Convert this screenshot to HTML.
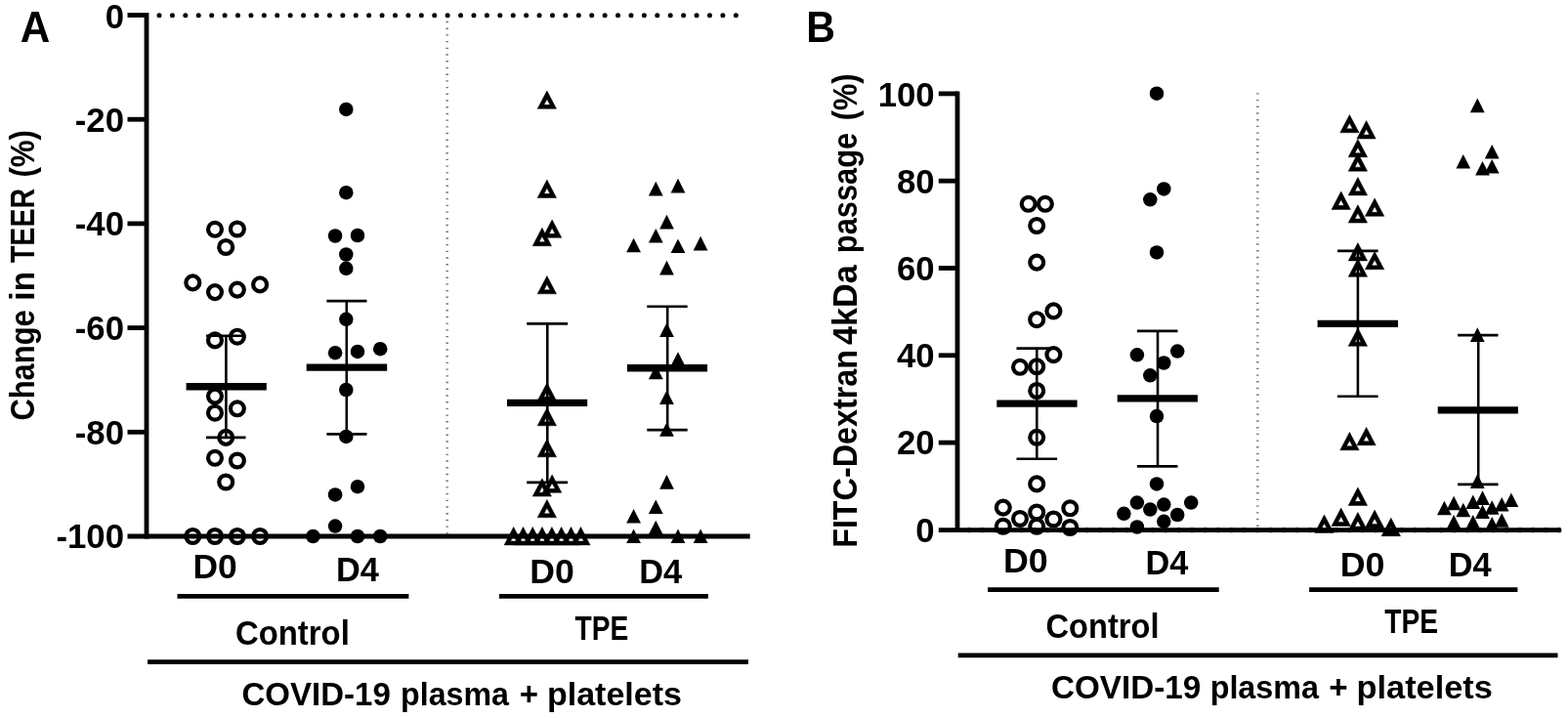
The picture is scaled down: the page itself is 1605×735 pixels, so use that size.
<!DOCTYPE html><html lang="en"><head><meta charset="utf-8"><title>Figure</title>
<style>html,body{margin:0;padding:0;background:#fff}body{width:1605px;height:735px;overflow:hidden}svg{display:block}text{fill:#000}</style></head><body>
<svg width="1605" height="735" viewBox="0 0 1605 735" font-family="&quot;Liberation Sans&quot;, Arial, Helvetica, sans-serif" font-weight="700">
<rect width="1605" height="735" fill="#fff"/>
<g id="panelA">
<line x1="163" y1="15.7" x2="753.7" y2="15.7" stroke="#000" stroke-width="5.0" stroke-linecap="round" stroke-dasharray="0 13.416"/>
<line x1="457.7" y1="21.8" x2="457.7" y2="547" stroke="#7a7a7a" stroke-width="2.6" stroke-dasharray="1.4 5.31"/>
<g stroke="#000">
<line x1="150.00" y1="13.10" x2="150.00" y2="551.40" stroke-width="4.8" />
<line x1="130.50" y1="549.00" x2="767.70" y2="549.00" stroke-width="4.8" />
<line x1="130.50" y1="15.50" x2="150.00" y2="15.50" stroke-width="4.8" />
<line x1="130.50" y1="122.20" x2="150.00" y2="122.20" stroke-width="4.8" />
<line x1="130.50" y1="228.90" x2="150.00" y2="228.90" stroke-width="4.8" />
<line x1="130.50" y1="335.60" x2="150.00" y2="335.60" stroke-width="4.8" />
<line x1="130.50" y1="442.30" x2="150.00" y2="442.30" stroke-width="4.8" />
</g>
<text transform="translate(107.65 28.60) scale(0.9650 1)" font-size="36">0</text>
<text transform="translate(76.77 134.50) scale(0.9650 1)" font-size="36">-20</text>
<text transform="translate(76.77 241.20) scale(0.9650 1)" font-size="36">-40</text>
<text transform="translate(76.77 347.90) scale(0.9650 1)" font-size="36">-60</text>
<text transform="translate(76.77 454.60) scale(0.9650 1)" font-size="36">-80</text>
<text transform="translate(57.47 561.30) scale(0.9650 1)" font-size="36">-100</text>
<g fill="none" stroke="#000" stroke-width="4.2">
<circle cx="220.0" cy="234.8" r="6.95"/>
<circle cx="242.9" cy="234.5" r="6.95"/>
<circle cx="231.2" cy="253.0" r="6.95"/>
<circle cx="197.3" cy="289.4" r="6.95"/>
<circle cx="220.0" cy="299.1" r="6.95"/>
<circle cx="242.9" cy="296.6" r="6.95"/>
<circle cx="266.1" cy="291.4" r="6.95"/>
<circle cx="220.0" cy="348.4" r="6.95"/>
<circle cx="242.9" cy="344.7" r="6.95"/>
<circle cx="220.0" cy="405.6" r="6.95"/>
<circle cx="242.9" cy="418.3" r="6.95"/>
<circle cx="220.0" cy="422.7" r="6.95"/>
<circle cx="231.2" cy="447.9" r="6.95"/>
<circle cx="220.0" cy="468.8" r="6.95"/>
<circle cx="242.9" cy="471.5" r="6.95"/>
<circle cx="231.2" cy="493.5" r="6.95"/>
<circle cx="197.3" cy="549.0" r="6.95"/>
<circle cx="220.0" cy="549.0" r="6.95"/>
<circle cx="242.9" cy="549.0" r="6.95"/>
<circle cx="266.1" cy="549.0" r="6.95"/>
</g>
<g stroke="#000" fill="none">
<line x1="231.40" y1="343.70" x2="231.40" y2="447.90" stroke-width="2.6" />
<line x1="211.00" y1="343.70" x2="251.50" y2="343.70" stroke-width="2.6" />
<line x1="211.00" y1="447.90" x2="251.50" y2="447.90" stroke-width="2.6" />
<line x1="190.60" y1="395.80" x2="272.80" y2="395.80" stroke-width="7.4" />
</g>
<g fill="#000">
<circle cx="354.3" cy="111.9" r="7.25"/>
<circle cx="354.3" cy="197.2" r="7.25"/>
<circle cx="343.1" cy="241.5" r="7.25"/>
<circle cx="366.0" cy="241.0" r="7.25"/>
<circle cx="354.3" cy="260.5" r="7.25"/>
<circle cx="354.3" cy="274.8" r="7.25"/>
<circle cx="354.3" cy="326.8" r="7.25"/>
<circle cx="343.1" cy="361.2" r="7.25"/>
<circle cx="366.0" cy="359.9" r="7.25"/>
<circle cx="389.2" cy="357.2" r="7.25"/>
<circle cx="354.3" cy="399.0" r="7.25"/>
<circle cx="354.3" cy="446.9" r="7.25"/>
<circle cx="366.0" cy="498.2" r="7.25"/>
<circle cx="343.1" cy="506.4" r="7.25"/>
<circle cx="343.1" cy="538.6" r="7.25"/>
<circle cx="320.4" cy="549.0" r="7.25"/>
<circle cx="366.0" cy="549.0" r="7.25"/>
<circle cx="389.2" cy="549.0" r="7.25"/>
</g>
<g stroke="#000" fill="none">
<line x1="354.80" y1="308.10" x2="354.80" y2="444.40" stroke-width="2.6" />
<line x1="334.40" y1="308.10" x2="375.50" y2="308.10" stroke-width="2.6" />
<line x1="334.40" y1="444.40" x2="375.50" y2="444.40" stroke-width="2.6" />
<line x1="313.70" y1="376.10" x2="396.20" y2="376.10" stroke-width="7.4" />
</g>
<g fill="#000" fill-rule="evenodd" stroke="#000" stroke-width="0.5" stroke-linejoin="round">
<path d="M559.9 93.0L569.5 111.3L550.2 111.3ZM559.9 101.56L556.86 107.35L562.94 107.35Z"/>
<path d="M559.9 184.0L569.5 202.4L550.2 202.4ZM559.9 192.56L556.86 198.35L562.94 198.35Z"/>
<path d="M565.1 224.9L574.8 243.3L555.5 243.3ZM565.1 233.46L562.06 239.25L568.14 239.25Z"/>
<path d="M554.9 233.2L564.5 251.7L545.2 251.7ZM554.9 241.86L551.86 247.65L557.94 247.65Z"/>
<path d="M559.9 282.4L569.5 300.8L550.2 300.8ZM559.9 290.96L556.86 296.75L562.94 296.75Z"/>
<path d="M559.9 391.9L569.5 410.2L550.2 410.2ZM559.9 400.46L556.86 406.25L562.94 406.25Z"/>
<path d="M559.9 417.4L569.5 435.8L550.2 435.8ZM559.9 426.06L556.86 431.85L562.94 431.85Z"/>
<path d="M559.9 449.4L569.5 467.8L550.2 467.8ZM559.9 457.96L556.86 463.75L562.94 463.75Z"/>
<path d="M565.1 485.9L574.8 504.3L555.5 504.3ZM565.1 494.56L562.06 500.35L568.14 500.35Z"/>
<path d="M554.9 489.8L564.5 508.1L545.2 508.1ZM554.9 498.36L551.86 504.15L557.94 504.15Z"/>
<path d="M559.9 511.4L569.5 529.8L550.2 529.8ZM559.9 519.96L556.86 525.75L562.94 525.75Z"/>
<path d="M525.7 539.5L535.4 557.9L516.1 557.9ZM525.7 548.16L522.66 553.95L528.74 553.95Z"/>
<path d="M535.5 539.5L545.1 557.9L525.9 557.9ZM535.5 548.16L532.46 553.95L538.54 553.95Z"/>
<path d="M545.2 539.5L554.9 557.9L535.6 557.9ZM545.2 548.16L542.16 553.95L548.24 553.95Z"/>
<path d="M554.9 539.5L564.5 557.9L545.2 557.9ZM554.9 548.16L551.86 553.95L557.94 553.95Z"/>
<path d="M564.9 539.5L574.5 557.9L555.2 557.9ZM564.9 548.16L561.86 553.95L567.94 553.95Z"/>
<path d="M574.6 539.5L584.2 557.9L565.0 557.9ZM574.6 548.16L571.56 553.95L577.64 553.95Z"/>
<path d="M584.5 539.5L594.1 557.9L574.9 557.9ZM584.5 548.16L581.46 553.95L587.54 553.95Z"/>
<path d="M594.5 539.5L604.1 557.9L584.9 557.9ZM594.5 548.16L591.46 553.95L597.54 553.95Z"/>
</g>
<g stroke="#000" fill="none">
<line x1="560.30" y1="331.40" x2="560.30" y2="493.90" stroke-width="2.6" />
<line x1="539.20" y1="331.40" x2="581.10" y2="331.40" stroke-width="2.6" />
<line x1="539.20" y1="493.90" x2="581.10" y2="493.90" stroke-width="2.6" />
<line x1="519.00" y1="412.40" x2="601.20" y2="412.40" stroke-width="7.4" />
</g>
<g fill="#000">
<path d="M671.3 185.8L678.7 200.4L663.9 200.4Z"/>
<path d="M694.0 182.8L701.4 197.4L686.6 197.4Z"/>
<path d="M682.5 219.8L689.9 234.4L675.1 234.4Z"/>
<path d="M671.3 233.9L678.7 248.5L663.9 248.5Z"/>
<path d="M648.6 243.7L656.0 258.3L641.2 258.3Z"/>
<path d="M694.0 244.4L701.4 259.0L686.6 259.0Z"/>
<path d="M717.1 241.8L724.5 256.4L709.7 256.4Z"/>
<path d="M682.5 266.8L689.9 281.4L675.1 281.4Z"/>
<path d="M682.5 330.3L689.9 344.9L675.1 344.9Z"/>
<path d="M694.0 360.2L701.4 374.8L686.6 374.8Z"/>
<path d="M671.3 373.7L678.7 388.3L663.9 388.3Z"/>
<path d="M682.5 399.4L689.9 414.0L675.1 414.0Z"/>
<path d="M682.5 432.2L689.9 446.8L675.1 446.8Z"/>
<path d="M682.5 486.1L689.9 500.7L675.1 500.7Z"/>
<path d="M671.3 511.5L678.7 526.1L663.9 526.1Z"/>
<path d="M648.6 521.0L656.0 535.6L641.2 535.6Z"/>
<path d="M671.3 532.7L678.7 547.3L663.9 547.3Z"/>
<path d="M648.6 541.4L656.0 556.0L641.2 556.0Z"/>
<path d="M694.0 541.4L701.4 556.0L686.6 556.0Z"/>
<path d="M717.1 541.4L724.5 556.0L709.7 556.0Z"/>
</g>
<g stroke="#000" fill="none">
<line x1="683.20" y1="313.70" x2="683.20" y2="440.10" stroke-width="2.6" />
<line x1="662.30" y1="313.70" x2="703.70" y2="313.70" stroke-width="2.6" />
<line x1="662.30" y1="440.10" x2="703.70" y2="440.10" stroke-width="2.6" />
<line x1="641.90" y1="376.80" x2="724.10" y2="376.80" stroke-width="7.4" />
</g>
<text transform="translate(20.71 42.90) scale(0.9559 1)" font-size="44.2">A</text>
<text transform="translate(35.30 430.56) rotate(-90) scale(0.9035 1)" font-size="34.2">Change</text>
<text transform="translate(35.30 307.65) rotate(-90) scale(0.9786 1)" font-size="34.2">in</text>
<text transform="translate(35.30 269.12) rotate(-90) scale(0.8356 1)" font-size="34.2">TEER</text>
<text transform="translate(35.30 181.60) rotate(-90) scale(0.9146 1)" font-size="34.2">(%)</text>
<text transform="translate(197.39 592.40) scale(1.0247 1)" font-size="34.6">D0</text>
<text transform="translate(343.96 594.70) scale(0.9940 1)" font-size="34.6">D4</text>
<text transform="translate(542.18 596.80) scale(1.0296 1)" font-size="34.6">D0</text>
<text transform="translate(654.16 596.80) scale(0.9940 1)" font-size="34.6">D4</text>
<g stroke="#000">
<line x1="181.50" y1="610.35" x2="418.40" y2="610.35" stroke-width="4.8" />
<line x1="511.00" y1="610.35" x2="724.90" y2="610.35" stroke-width="4.8" />
<line x1="151.10" y1="677.70" x2="766.00" y2="677.70" stroke-width="4.8" />
</g>
<text transform="translate(240.90 659.70) scale(0.9325 1)" font-size="35.3">Control</text>
<text transform="translate(588.59 655.20) scale(0.8200 1)" font-size="34.4">TPE</text>
<text transform="translate(247.54 722.10) scale(0.9708 1)" font-size="34">COVID-19</text>
<text transform="translate(410.07 722.10) scale(0.9470 1)" font-size="34">plasma</text>
<text transform="translate(531.64 722.10) scale(0.9706 1)" font-size="34">+</text>
<text transform="translate(559.95 722.10) scale(1.0011 1)" font-size="34">platelets</text>
</g>
<g id="panelB">
<line x1="1287.3" y1="95.2" x2="1287.3" y2="540.5" stroke="#7a7a7a" stroke-width="2.6" stroke-dasharray="1.4 5.302"/>
<line x1="992.1" y1="542.7" x2="1596" y2="542.7" stroke="#000" stroke-width="5.2" stroke-linecap="round" stroke-dasharray="0 13.416"/>
<g stroke="#000">
<line x1="980.00" y1="93.50" x2="980.00" y2="544.90" stroke-width="4.8" />
<line x1="960.80" y1="542.60" x2="1597.50" y2="542.60" stroke-width="4.6" />
<line x1="960.80" y1="95.90" x2="980.00" y2="95.90" stroke-width="4.8" />
<line x1="960.80" y1="185.20" x2="980.00" y2="185.20" stroke-width="4.8" />
<line x1="960.80" y1="274.50" x2="980.00" y2="274.50" stroke-width="4.8" />
<line x1="960.80" y1="363.80" x2="980.00" y2="363.80" stroke-width="4.8" />
<line x1="960.80" y1="453.10" x2="980.00" y2="453.10" stroke-width="4.8" />
</g>
<text transform="translate(898.65 109.00) scale(0.9650 1)" font-size="36">100</text>
<text transform="translate(917.95 197.50) scale(0.9650 1)" font-size="36">80</text>
<text transform="translate(917.95 286.80) scale(0.9650 1)" font-size="36">60</text>
<text transform="translate(917.95 376.10) scale(0.9650 1)" font-size="36">40</text>
<text transform="translate(917.95 465.40) scale(0.9650 1)" font-size="36">20</text>
<text transform="translate(937.25 554.70) scale(0.9650 1)" font-size="36">0</text>
<g fill="none" stroke="#000" stroke-width="4.2">
<circle cx="1052.7" cy="208.8" r="6.95"/>
<circle cx="1069.9" cy="208.8" r="6.95"/>
<circle cx="1061.2" cy="231.0" r="6.95"/>
<circle cx="1061.2" cy="268.6" r="6.95"/>
<circle cx="1078.4" cy="318.4" r="6.95"/>
<circle cx="1061.2" cy="327.2" r="6.95"/>
<circle cx="1078.4" cy="363.1" r="6.95"/>
<circle cx="1044.0" cy="375.8" r="6.95"/>
<circle cx="1061.2" cy="375.3" r="6.95"/>
<circle cx="1061.2" cy="400.0" r="6.95"/>
<circle cx="1061.2" cy="447.8" r="6.95"/>
<circle cx="1061.2" cy="495.4" r="6.95"/>
<circle cx="1026.8" cy="519.6" r="6.95"/>
<circle cx="1095.3" cy="520.3" r="6.95"/>
<circle cx="1061.2" cy="524.5" r="6.95"/>
<circle cx="1044.0" cy="531.0" r="6.95"/>
<circle cx="1078.4" cy="531.5" r="6.95"/>
<circle cx="1026.8" cy="538.8" r="6.95"/>
<circle cx="1061.2" cy="538.8" r="6.95"/>
<circle cx="1095.3" cy="540.0" r="6.95"/>
</g>
<g stroke="#000" fill="none">
<line x1="1061.30" y1="356.60" x2="1061.30" y2="469.70" stroke-width="2.6" />
<line x1="1040.50" y1="356.60" x2="1082.10" y2="356.60" stroke-width="2.6" />
<line x1="1040.50" y1="469.70" x2="1082.10" y2="469.70" stroke-width="2.6" />
<line x1="1020.30" y1="413.10" x2="1102.60" y2="413.10" stroke-width="7.4" />
</g>
<g fill="#000">
<circle cx="1184.0" cy="95.7" r="7.25"/>
<circle cx="1191.3" cy="193.4" r="7.25"/>
<circle cx="1177.3" cy="204.3" r="7.25"/>
<circle cx="1184.0" cy="258.4" r="7.25"/>
<circle cx="1163.9" cy="363.3" r="7.25"/>
<circle cx="1205.2" cy="359.6" r="7.25"/>
<circle cx="1191.3" cy="371.5" r="7.25"/>
<circle cx="1177.3" cy="384.3" r="7.25"/>
<circle cx="1184.0" cy="426.1" r="7.25"/>
<circle cx="1184.0" cy="495.4" r="7.25"/>
<circle cx="1163.9" cy="514.6" r="7.25"/>
<circle cx="1219.2" cy="514.6" r="7.25"/>
<circle cx="1191.3" cy="516.6" r="7.25"/>
<circle cx="1177.3" cy="521.6" r="7.25"/>
<circle cx="1150.4" cy="525.8" r="7.25"/>
<circle cx="1205.2" cy="527.0" r="7.25"/>
<circle cx="1191.3" cy="533.8" r="7.25"/>
<circle cx="1163.9" cy="539.5" r="7.25"/>
</g>
<g stroke="#000" fill="none">
<line x1="1185.00" y1="338.90" x2="1185.00" y2="477.40" stroke-width="2.6" />
<line x1="1163.90" y1="338.90" x2="1205.50" y2="338.90" stroke-width="2.6" />
<line x1="1163.90" y1="477.40" x2="1205.50" y2="477.40" stroke-width="2.6" />
<line x1="1143.70" y1="407.90" x2="1225.90" y2="407.90" stroke-width="7.4" />
</g>
<g fill="#000" fill-rule="evenodd" stroke="#000" stroke-width="0.5" stroke-linejoin="round">
<path d="M1381.4 117.5L1391.1 135.8L1371.8 135.8ZM1381.4 126.06L1378.36 131.85L1384.44 131.85Z"/>
<path d="M1398.6 123.6L1408.2 142.0L1388.9 142.0ZM1398.6 132.26L1395.56 138.05L1401.64 138.05Z"/>
<path d="M1389.9 142.4L1399.6 160.8L1380.2 160.8ZM1389.9 150.96L1386.86 156.75L1392.94 156.75Z"/>
<path d="M1389.9 156.8L1399.6 175.2L1380.2 175.2ZM1389.9 165.36L1386.86 171.15L1392.94 171.15Z"/>
<path d="M1389.9 181.5L1399.6 199.9L1380.2 199.9ZM1389.9 190.06L1386.86 195.85L1392.94 195.85Z"/>
<path d="M1372.7 196.0L1382.4 214.4L1363.0 214.4ZM1372.7 204.56L1369.66 210.35L1375.74 210.35Z"/>
<path d="M1407.1 202.9L1416.8 221.3L1397.4 221.3ZM1407.1 211.46L1404.06 217.25L1410.14 217.25Z"/>
<path d="M1389.9 209.7L1399.6 228.1L1380.2 228.1ZM1389.9 218.26L1386.86 224.05L1392.94 224.05Z"/>
<path d="M1389.9 248.6L1399.6 266.9L1380.2 266.9ZM1389.9 257.16L1386.86 262.95L1392.94 262.95Z"/>
<path d="M1407.1 257.4L1416.8 275.8L1397.4 275.8ZM1407.1 266.06L1404.06 271.85L1410.14 271.85Z"/>
<path d="M1389.9 264.9L1399.6 283.3L1380.2 283.3ZM1389.9 273.56L1386.86 279.35L1392.94 279.35Z"/>
<path d="M1389.9 335.9L1399.6 354.3L1380.2 354.3ZM1389.9 344.56L1386.86 350.35L1392.94 350.35Z"/>
<path d="M1398.6 437.4L1408.2 455.8L1388.9 455.8ZM1398.6 445.96L1395.56 451.75L1401.64 451.75Z"/>
<path d="M1381.4 442.4L1391.1 460.8L1371.8 460.8ZM1381.4 450.96L1378.36 456.75L1384.44 456.75Z"/>
<path d="M1389.9 498.9L1399.6 517.4L1380.2 517.4ZM1389.9 507.56L1386.86 513.35L1392.94 513.35Z"/>
<path d="M1372.7 520.1L1382.4 538.5L1363.0 538.5ZM1372.7 528.76L1369.66 534.55L1375.74 534.55Z"/>
<path d="M1407.1 522.1L1416.8 540.5L1397.4 540.5ZM1407.1 530.76L1404.06 536.55L1410.14 536.55Z"/>
<path d="M1389.9 524.5L1399.6 542.9L1380.2 542.9ZM1389.9 533.16L1386.86 538.95L1392.94 538.95Z"/>
<path d="M1355.5 527.0L1365.2 545.4L1345.8 545.4ZM1355.5 535.66L1352.46 541.45L1358.54 541.45Z"/>
<path d="M1423.8 530.3L1433.5 548.7L1414.1 548.7ZM1423.8 538.96L1420.76 544.75L1426.84 544.75Z"/>
</g>
<g stroke="#000" fill="none">
<line x1="1389.90" y1="256.90" x2="1389.90" y2="405.70" stroke-width="2.6" />
<line x1="1369.00" y1="256.90" x2="1410.60" y2="256.90" stroke-width="2.6" />
<line x1="1369.00" y1="405.70" x2="1410.60" y2="405.70" stroke-width="2.6" />
<line x1="1348.60" y1="331.40" x2="1431.00" y2="331.40" stroke-width="7.4" />
</g>
<g fill="#000">
<path d="M1512.3 100.6L1519.7 115.2L1504.9 115.2Z"/>
<path d="M1527.2 147.9L1534.6 162.5L1519.8 162.5Z"/>
<path d="M1497.8 157.9L1505.2 172.5L1490.4 172.5Z"/>
<path d="M1527.2 162.9L1534.6 177.5L1519.8 177.5Z"/>
<path d="M1517.5 164.9L1524.9 179.5L1510.1 179.5Z"/>
<path d="M1512.3 335.3L1519.7 349.9L1504.9 349.9Z"/>
<path d="M1512.3 485.3L1519.7 499.9L1504.9 499.9Z"/>
<path d="M1517.5 502.3L1524.9 516.9L1510.1 516.9Z"/>
<path d="M1546.9 504.5L1554.3 519.1L1539.5 519.1Z"/>
<path d="M1507.8 506.5L1515.2 521.1L1500.4 521.1Z"/>
<path d="M1488.1 507.7L1495.5 522.3L1480.7 522.3Z"/>
<path d="M1537.2 509.0L1544.6 523.6L1529.8 523.6Z"/>
<path d="M1527.2 512.2L1534.6 526.8L1519.8 526.8Z"/>
<path d="M1478.4 512.7L1485.8 527.3L1471.0 527.3Z"/>
<path d="M1497.8 514.7L1505.2 529.3L1490.4 529.3Z"/>
<path d="M1517.5 516.5L1524.9 531.1L1510.1 531.1Z"/>
<path d="M1537.2 525.2L1544.6 539.8L1529.8 539.8Z"/>
<path d="M1488.1 526.9L1495.5 541.5L1480.7 541.5Z"/>
<path d="M1507.8 526.9L1515.2 541.5L1500.4 541.5Z"/>
<path d="M1527.2 528.9L1534.6 543.5L1519.8 543.5Z"/>
</g>
<g stroke="#000" fill="none">
<line x1="1513.20" y1="343.10" x2="1513.20" y2="495.90" stroke-width="2.6" />
<line x1="1492.10" y1="343.10" x2="1533.50" y2="343.10" stroke-width="2.6" />
<line x1="1492.10" y1="495.90" x2="1533.50" y2="495.90" stroke-width="2.6" />
<line x1="1471.70" y1="419.90" x2="1553.90" y2="419.90" stroke-width="7.4" />
</g>
<text transform="translate(825.31 42.90) scale(0.9296 1)" font-size="44.2">B</text>
<text transform="translate(877.30 560.83) rotate(-90) scale(0.9446 1)" font-size="34.2">FITC-Dextran</text>
<text transform="translate(877.30 353.00) rotate(-90) scale(1.0000 1)" font-size="34.2">4kDa</text>
<text transform="translate(877.30 259.13) rotate(-90) scale(0.9004 1)" font-size="34.2">passage</text>
<text transform="translate(877.30 123.17) rotate(-90) scale(0.8985 1)" font-size="34.2">(%)</text>
<text transform="translate(1026.97 585.80) scale(1.0346 1)" font-size="34.6">D0</text>
<text transform="translate(1172.57 587.90) scale(0.9916 1)" font-size="34.6">D4</text>
<text transform="translate(1371.67 590.00) scale(1.0346 1)" font-size="34.6">D0</text>
<text transform="translate(1482.67 590.00) scale(0.9916 1)" font-size="34.6">D4</text>
<g stroke="#000">
<line x1="1011.10" y1="603.65" x2="1247.70" y2="603.65" stroke-width="4.8" />
<line x1="1340.10" y1="603.65" x2="1553.40" y2="603.65" stroke-width="4.8" />
<line x1="980.70" y1="670.95" x2="1594.50" y2="670.95" stroke-width="4.8" />
</g>
<text transform="translate(1070.51 652.70) scale(0.9243 1)" font-size="35.3">Control</text>
<text transform="translate(1417.19 648.30) scale(0.8215 1)" font-size="34.4">TPE</text>
<text transform="translate(1076.03 715.40) scale(0.9773 1)" font-size="34">COVID-19</text>
<text transform="translate(1238.66 715.40) scale(0.9504 1)" font-size="34">plasma</text>
<text transform="translate(1360.34 715.40) scale(0.9765 1)" font-size="34">+</text>
<text transform="translate(1388.53 715.40) scale(1.0101 1)" font-size="34">platelets</text>
</g>
</svg></body></html>
